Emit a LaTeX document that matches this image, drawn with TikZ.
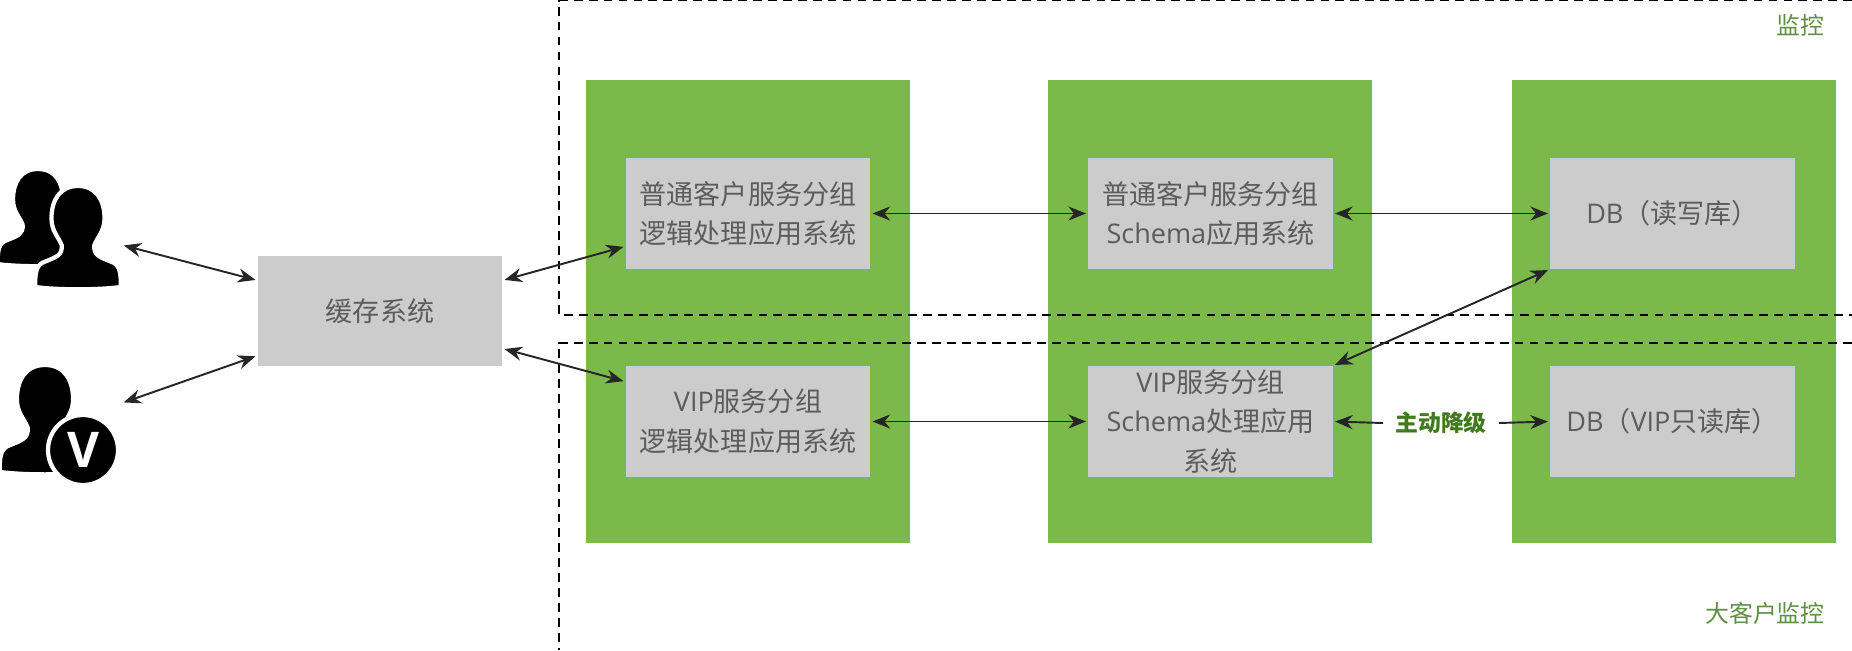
\documentclass[tikz,border=0pt]{standalone}
\usepackage{fontspec}
\setmainfont{Open Sans}
\newfontfamily\cjk{Noto Sans CJK SC}
\usetikzlibrary{arrows.meta}
\definecolor{groupgreen}{HTML}{7CB94B}
\definecolor{boxgrey}{HTML}{CCCCCC}
\definecolor{boxtext}{HTML}{5C5C5C}
\definecolor{labelgreen}{HTML}{5F8F45}
\definecolor{strongnote}{HTML}{3F7A1E}
\tikzset{
    groupbg/.style={fill=groupgreen, minimum width=6.48cm, minimum height=9.26cm, inner sep=0pt},
    sysbox/.style={fill=boxgrey, text=boxtext, minimum width=4.9cm, minimum height=2.22cm, inner sep=0pt, align=center,
        font=\fontsize{15.4}{22.5}\selectfont},
    link/.style={draw=black!85, line width=1.1pt, {Stealth[length=10pt,width=8pt]}-{Stealth[length=10pt,width=8pt]}, shorten <=1pt, shorten >=1pt},
    halflink/.style={draw=black!85, line width=1.1pt},
    zone/.style={draw=black, line width=0.9pt, dash pattern=on 5pt off 3.5pt},
    zonelabel/.style={text=labelgreen, font=\fontsize{13.6}{16}\selectfont, inner sep=0pt},
    usershape/.style={fill=black, draw=white, line width=2.4pt}
}
\newcommand{\usersil}[3]{
    \path[usershape, shift={(#1,#2)}, x=#3*0.02cm, y=-#3*0.02cm]
        (0,0) .. controls (-18,0) and (-26,14) .. (-26,32)
        .. controls (-26,44) and (-19,50) .. (-16,58)
        .. controls (-15,68) and (-22,70) .. (-32,74)
        .. controls (-41,77) and (-42,84) .. (-42,99)
        .. controls (-20,102) and (20,102) .. (42,99)
        .. controls (42,84) and (41,77) .. (32,74)
        .. controls (22,70) and (15,68) .. (16,58)
        .. controls (19,50) and (26,44) .. (26,32)
        .. controls (26,14) and (18,0) .. (0,0) -- cycle;
}
\begin{document}
\begin{tikzpicture}[x=0.02cm,y=-0.02cm]
            \useasboundingbox (0,0) rectangle (1852,650);
            \node[groupbg] (appGroup) at (748,311.5) {};
            \node[groupbg] (schemaGroup) at (1210,311.5) {};
            \node[groupbg] (dbGroup) at (1674,311.5) {};
            \draw[zone] (1852,0.5) -- (559,0.5) -- (559,315) -- (1852,315);
            \draw[zone] (1852,343) -- (559,343) -- (559,650);
            \node[sysbox] (cacheBox) at (380,311) {{\cjk 缓存系统}};
            \node[sysbox] (normalApp) at (748,213.5) {{\cjk 普通客户服务分组}\\{\cjk 逻辑处理应用系统}};
            \node[sysbox] (normalSchema) at (1210.5,213.5) {{\cjk 普通客户服务分组}\\Schema{\cjk 应用系统}};
            \node[sysbox] (normalDb) at (1672.5,213.5) {DB{\cjk （读写库）}};
            \node[sysbox] (vipApp) at (748,421.5) {VIP{\cjk 服务分组}\\{\cjk 逻辑处理应用系统}};
            \node[sysbox] (vipSchema) at (1210.5,421.5) {VIP{\cjk 服务分组}\\Schema{\cjk 处理应用}\\{\cjk 系统}};
            \node[sysbox] (vipDb) at (1672.5,421.5) {DB{\cjk （}VIP{\cjk 只读库）}};
            \node[text=strongnote, font=\fontsize{13}{16}\selectfont\bfseries, inner xsep=6.8pt, inner ysep=2pt] (downgradeLabel) at (1441,423) {{\cjk 主动降级}};
            \node[zonelabel] (monitorLabel) at (1800,25) {{\cjk 监控}};
            \node[zonelabel] (vipMonitorLabel) at (1765,613) {{\cjk 大客户监控}};
            \usersil{38}{169}{0.96}
            \usersil{78}{186}{1.02}
            \usersil{45}{365}{1.08}
            \fill[black, draw=white, line width=2.4pt] (83,450) circle (35);
            \node[text=white, font=\fontsize{28}{28}\selectfont\bfseries, inner sep=0pt] (vipMark) at (83,450) {V};
            \coordinate (userTop) at (122,245);
            \coordinate (userVip) at (122,403);
            \draw[link] (userTop) -- (cacheBox.166);
            \draw[link] (userVip) -- (cacheBox.200);
            \draw[link] (cacheBox.14) -- (normalApp.195);
            \draw[link] (cacheBox.-17) -- (vipApp.162);
            \draw[link] (normalApp.east) -- (normalSchema.west);
            \draw[link] (normalSchema.east) -- (normalDb.west);
            \draw[link] (vipApp.east) -- (vipSchema.west);
            \draw[link] (vipSchema.north east) -- (normalDb.south west);
            \draw[halflink, {Stealth[length=10pt,width=8pt]}-, shorten <=1pt] (vipSchema.east) -- (downgradeLabel.west);
            \draw[halflink, -{Stealth[length=10pt,width=8pt]}, shorten >=1pt] (downgradeLabel.east) -- (vipDb.west);
        \end{tikzpicture}
\end{document}
